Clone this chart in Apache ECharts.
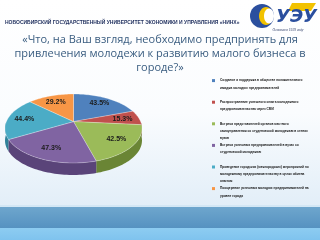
<!DOCTYPE html>
<html>
<head>
<meta charset="utf-8">
<script src="https://cdn.jsdelivr.net/npm/echarts@6/dist/echarts.min.js"></script>
<style>
  html, body { margin: 0; padding: 0; background: #fff; }
  #chart { width: 320px; height: 240px; }
</style>
</head>
<body>
<div id="chart"></div>
<script>
// данные опроса
const categories = [
  'Создание и поддержка в обществе положительного\nимиджа молодых предпринимателей',
  'Распространение успешного опыта молодежного\nпредпринимательства через СМИ',
  'Встречи представителей органов местного\nсамоуправления со студенческой молодежью в стенах\nвузов',
  'Встречи успешных предпринимателей в вузах со\nстуденческой молодежью',
  'Проведение городских (межгородских) мероприятий по\nмолодежному предпринимательству в целях обмена\nопытом',
  'Поощерение успешных молодых предпринимателей на\nуровне города'
];
const percents = [43.5, 15.3, 42.5, 47.3, 44.4, 29.2];

const palette = ['#4f81bd', '#c0504d', '#9bbb59', '#8064a2', '#4bacc6', '#f79646'];
const sidePalette = ['#3a6191', '#8f3936', '#6a8535', '#5a4479', '#2f8199', '#bf6c2a'];

const total = percents.reduce((a, b) => a + b, 0);

// псевдо-3D: эллипс с лёгкой перспективой
const CX = 73.5, CY = 121.6, RX = 67.1, RY = 33.1, K = 0.2, DEPTH = 12;

function proj(theta, f) {
  const u = Math.cos(theta) * f, v = Math.sin(theta) * f;
  const s = 1 / (1 - K * v);
  return [CX + RX * u * s, CY + RY * v * s];
}
function toAngle(val) {
  return -Math.PI / 2 + val / total * Math.PI * 2;
}

function renderSlice(params, api) {
  const a0 = toAngle(api.value(0));
  const a1 = toAngle(api.value(1));
  const color = api.visual('color');
  const children = [];

  const n = Math.max(6, Math.ceil((a1 - a0) / 0.03));
  const top = [[CX, CY]];
  for (let i = 0; i <= n; i++) top.push(proj(a0 + (a1 - a0) * i / n, 1));
  children.push({
    type: 'polygon',
    shape: { points: top },
    style: { fill: color, stroke: 'rgba(255,255,255,0.45)', lineWidth: 0.6 },
    z2: 10
  });

  // боковая стенка только спереди
  const s0 = Math.max(a0, 0), s1 = Math.min(a1, Math.PI);
  if (s1 > s0) {
    const m = Math.max(4, Math.ceil((s1 - s0) / 0.03));
    const pts = [];
    for (let i = 0; i <= m; i++) pts.push(proj(s0 + (s1 - s0) * i / m, 1));
    for (let i = m; i >= 0; i--) {
      const p = proj(s0 + (s1 - s0) * i / m, 1);
      pts.push([p[0], p[1] + DEPTH]);
    }
    children.push({
      type: 'polygon',
      shape: { points: pts },
      style: { fill: sidePalette[params.seriesIndex] },
      z2: 1 + Math.sin((s0 + s1) / 2)
    });
  }

  const lp = proj((a0 + a1) / 2, 0.75);
  children.push({
    type: 'text',
    x: lp[0],
    y: lp[1],
    style: {
      text: api.value(2).toFixed(1) + '%',
      fill: '#1c1c1c',
      font: 'bold 7px "Liberation Sans"',
      align: 'center',
      verticalAlign: 'middle'
    },
    z2: 20
  });
  return { type: 'group', children: children };
}

let acc = 0;
const series = percents.map((v, i) => {
  const start = acc;
  acc += v;
  return {
    type: 'custom',
    name: categories[i],
    coordinateSystem: 'none',
    itemStyle: { color: palette[i] },
    data: [[start, acc, v]],
    renderItem: renderSlice
  };
});

const myChart = echarts.init(document.getElementById('chart'), null, { renderer: 'canvas' });
myChart.setOption({
  animation: false,
  title: {
    text: '«Что, на Ваш взгляд, необходимо предпринять для\nпривлечения молодежи к развитию малого бизнеса в\nгороде?»',
    left: 'center',
    top: 33,
    padding: 0,
    textStyle: {
      fontFamily: 'Open Sans',
      fontSize: 11,
      lineHeight: 14,
      fontWeight: 'normal',
      color: '#3a5d80'
    }
  },
  legend: {
    orient: 'vertical',
    left: 212,
    top: 77,
    padding: 0,
    itemGap: 0,
    itemWidth: 3,
    itemHeight: 21.6,
    icon: 'path://M0,0M3,21.6M0,2.1h3v3h-3z',
    selectedMode: false,
    data: categories,
    formatter: name => name.split('\n').length < 3 ? name + '\n' : name,
    textStyle: {
      fontFamily: 'Liberation Sans',
      fontSize: 3.2,
      lineHeight: 7.2,
      fontWeight: 'bold',
      color: '#111111'
    }
  },
  graphic: [
    // фон слайда
    { type: 'rect', z: -10, shape: { x: 0, y: 0, width: 320, height: 206 },
      style: { fill: new echarts.graphic.LinearGradient(0, 0, 0, 1, [
        { offset: 0, color: '#ffffff' }, { offset: 0.55, color: '#fafcfe' }, { offset: 1, color: '#e2eef8' }]) } },
    { type: 'rect', z: -10, shape: { x: 0, y: 205, width: 320, height: 3 }, style: { fill: '#d3e7f5' } },
    { type: 'rect', z: -10, shape: { x: 0, y: 207, width: 320, height: 21 },
      style: { fill: new echarts.graphic.LinearGradient(0, 0, 0, 1, [
        { offset: 0, color: '#6ea6cd' }, { offset: 1, color: '#5692c1' }]) } },
    { type: 'rect', z: -10, shape: { x: 0, y: 228, width: 320, height: 12 },
      style: { fill: new echarts.graphic.LinearGradient(0, 0, 0, 1, [
        { offset: 0, color: '#8dccf1' }, { offset: 1, color: '#7fc3ee' }]) } },
    // шапка
    { type: 'text', x: 5, y: 22.7,
      style: { text: 'НОВОСИБИРСКИЙ ГОСУДАРСТВЕННЫЙ УНИВЕРСИТЕТ ЭКОНОМИКИ И УПРАВЛЕНИЯ «НИНХ»',
        font: 'bold 5px "Liberation Sans"', fill: '#1f2f5e', verticalAlign: 'middle' } },
    // логотип
    { type: 'circle', shape: { cx: 262, cy: 16, r: 12 }, style: { fill: '#2b4f9e' } },
    { type: 'ellipse', shape: { cx: 266, cy: 16, rx: 7, ry: 9 }, style: { fill: '#f2c200' } },
    { type: 'ellipse', shape: { cx: 269, cy: 16, rx: 5, ry: 7.5 }, style: { fill: '#ffffff' } },
    { type: 'polygon', shape: { points: [[292, 3], [316, 3], [311, 11], [288, 11]] }, style: { fill: '#f2c200' } },
    { type: 'text', x: 276, y: 17,
      style: { text: 'УЭУ', font: 'italic bold 18px "DejaVu Sans"', fill: '#2b4f9e', verticalAlign: 'middle' } },
    { type: 'text', x: 288, y: 30,
      style: { text: 'Основан в 1929 году', font: 'italic 3.6px "Liberation Serif"', fill: '#1f2f5e',
        align: 'center', verticalAlign: 'middle' } }
  ],
  series: series
});
</script>
</body>
</html>
